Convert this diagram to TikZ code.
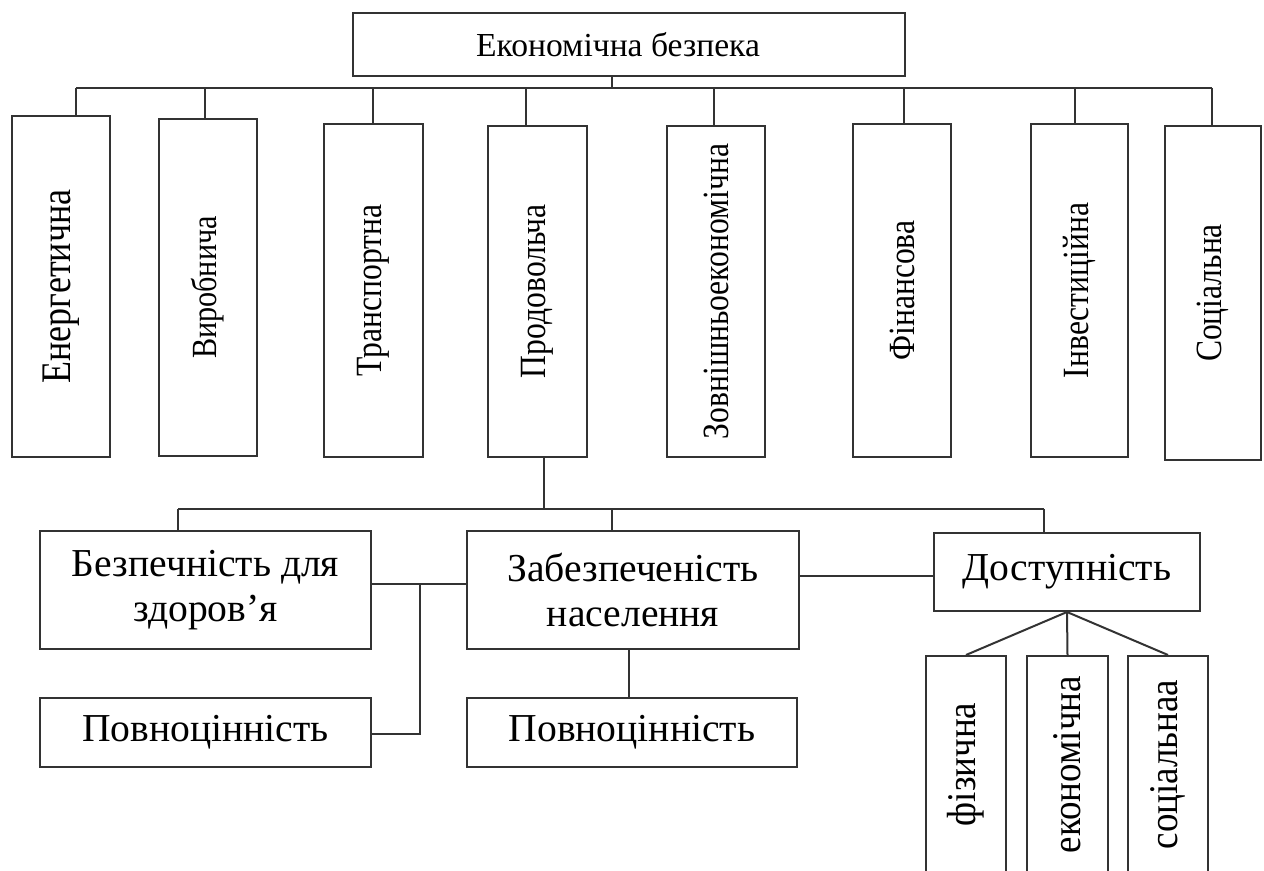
\documentclass[tikz,border=0pt]{standalone}
\usepackage{graphicx}
\usepackage{fontspec}
\setmainfont{Liberation Serif}
\newcommand{\vstr}[1]{\scalebox{1}[1.17]{#1}}
\newcommand{\sstr}[1]{\scalebox{1}[1.1]{#1}}
\begin{document}
\begin{tikzpicture}[x=0.5pt,y=-0.5pt,
  box/.style={draw=black!80, line width=1pt, inner sep=0pt, rectangle, fill=white},
  conn/.style={draw=black!80, line width=1pt},
  vlab/.style={rotate=90, inner sep=0pt, font=\fontsize{15.8}{18}\selectfont},
  hlab/.style={align=center, font=\fontsize{19.8}{22.5}\selectfont},
  slab/.style={rotate=90, inner sep=0pt, font=\fontsize{18.5}{20}\selectfont}]
\useasboundingbox (0,0) rectangle (1264,871);
\fill[white] (0,0) rectangle (1264,871);

% top
\node[box, minimum width=276pt, minimum height=31.5pt, font=\fontsize{16.8}{18}\selectfont] (top) at (629,44.5) {\hspace*{-11pt}Економічна безпека};

% tall boxes
\node[box, minimum width=49pt, minimum height=170.5pt, label={[vlab, font=\fontsize{18}{20}\selectfont]center:\vstr{Енергетична}}] (T1) at (61,286.5) {};
\node[box, minimum width=49pt, minimum height=168.5pt, label={[vlab, font=\fontsize{15.1}{17}\selectfont]center:\vstr{Виробнича}}] (T2) at (208,287.5) {};
\node[box, minimum width=49.5pt, minimum height=166.5pt, label={[vlab]center:\vstr{Транспортна}}] (T3) at (373.5,290.5) {};
\node[box, minimum width=49.5pt, minimum height=165.5pt, label={[vlab]center:\vstr{Продовольча}}] (T4) at (537.5,291.5) {};
\node[box, minimum width=49pt, minimum height=165.5pt, label={[vlab]center:\vstr{Зовнішньоекономічна}}] (T5) at (716,291.5) {};
\node[box, minimum width=49pt, minimum height=166.5pt, label={[vlab]center:\vstr{Фінансова}}] (T6) at (902,290.5) {};
\node[box, minimum width=48.5pt, minimum height=166.5pt, label={[vlab]center:\vstr{Інвестиційна}}] (T7) at (1079.5,290.5) {};
\node[box, minimum width=48pt, minimum height=167pt, label={[vlab]center:\vstr{Соціальна}}] (T8) at (1213,293) {};

% lower boxes
\node[box, hlab, minimum width=165.5pt, minimum height=59pt] (B1) at (205.5,590) {Безпечність для\\здоров’я};
\node[box, hlab, minimum width=166pt, minimum height=59pt] (B2) at (633,590) {Забезпеченість\\населення};
\node[box, hlab, minimum width=133pt, minimum height=39pt] (B3) at (1067,572) {Доступність};
\node[box, hlab, minimum width=165.5pt, minimum height=34.5pt] (P1) at (205.5,732.5) {Повноцінність};
\node[box, hlab, minimum width=165pt, minimum height=34.5pt] (P2) at (632,732.5) {Повноцінність};

\node[box, minimum width=40pt, minimum height=108.5pt, label={[slab]center:\sstr{фізична}}] (S1) at (966,764.5) {};
\node[box, minimum width=40.5pt, minimum height=108.5pt, label={[slab]center:\sstr{економічна}}] (S2) at (1067.5,764.5) {};
\node[box, minimum width=40pt, minimum height=108.5pt, label={[slab]center:\sstr{соціальнаа}}] (S3) at (1168,764.5) {};

% top bus
\coordinate (s0) at (612,88);
\coordinate (s1) at (76,88);
\coordinate (s2) at (205,88);
\coordinate (s3) at (373,88);
\coordinate (s4) at (526,88);
\coordinate (s5) at (714,88);
\coordinate (s6) at (904,88);
\coordinate (s7) at (1075,88);
\coordinate (s8) at (1212,88);
\draw[conn] (s0 |- top.south) -- (s0);
\draw[conn] (s1) -- (s8);
\draw[conn] (s1) -- (s1 |- T1.north);
\draw[conn] (s2) -- (s2 |- T2.north);
\draw[conn] (s3) -- (s3 |- T3.north);
\draw[conn] (s4) -- (s4 |- T4.north);
\draw[conn] (s5) -- (s5 |- T5.north);
\draw[conn] (s6) -- (s6 |- T6.north);
\draw[conn] (s7) -- (s7 |- T7.north);
\draw[conn] (s8) -- (s8 |- T8.north);

% second bus
\coordinate (p0) at (544,509);
\coordinate (q1) at (178,509);
\coordinate (q2) at (612,509);
\coordinate (q3) at (1044,509);
\draw[conn] (p0 |- T4.south) -- (p0);
\draw[conn] (q1) -- (q3);
\draw[conn] (q1) -- (q1 |- B1.north);
\draw[conn] (q2) -- (q2 |- B2.north);
\draw[conn] (q3) -- (q3 |- B3.north);

% side links
\coordinate (j) at (420,584);
\coordinate (k) at (420,734);
\draw[conn] (B1.east |- j) -- (B2.west |- j);
\draw[conn] (j) -- (k) -- (k -| P1.east);
\coordinate (m) at (800,576);
\draw[conn] (m -| B2.east) -- (m -| B3.west);
\coordinate (n) at (629,650);
\draw[conn] (n |- B2.south) -- (n |- P2.north);

% fan
\draw[conn] (B3.south) -- (S1.north);
\draw[conn] (B3.south) -- (S2.north);
\draw[conn] (B3.south) -- (S3.north);
\end{tikzpicture}
\end{document}
